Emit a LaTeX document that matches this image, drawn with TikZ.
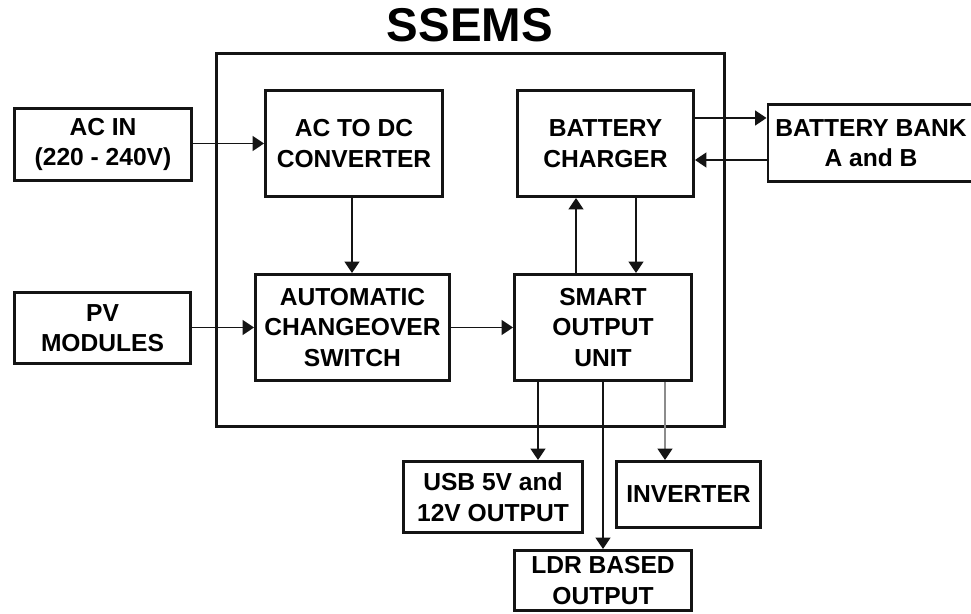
\documentclass[tikz,border=0pt]{standalone}
\usepackage{fontspec}
\setmainfont{Liberation Sans}
\usetikzlibrary{arrows.meta, calc}
\definecolor{cblack}{HTML}{141414}
\definecolor{cgrey}{HTML}{8C8C8C}
\tikzset{
  every picture/.style={line width=0.9pt},
  blockbox/.style 2 args={draw=cblack, line width=1.7pt, align=center, inner sep=1pt,
    font=\fontsize{14}{17.4}\selectfont\bfseries, minimum width=#1*0.02cm, minimum height=#2*0.02cm},
  framebox/.style={draw=cblack, line width=1.7pt, inner sep=0pt, minimum width=508*0.02cm, minimum height=373*0.02cm},
  titletext/.style={font=\fontsize{27}{31}\selectfont\bfseries, inner sep=0pt},
  arrow/.style={-{Triangle[length=6.5pt, width=8.5pt]}, draw=cblack, line width=0.9pt},
  greyarrow/.style={-{Triangle[length=6.5pt, width=8.5pt, color=cblack]}, draw=cgrey, line width=0.9pt},
}

\begin{document}
\begin{tikzpicture}[x=0.02cm, y=-0.02cm]
  \useasboundingbox (0,0) rectangle (971,614);
  % title and system frame
  \node[titletext, anchor=base] (title) at (470,42) {SSEMS};
  \node[framebox] (ssems) at (470.5,240) {};
  % blocks
  \node[blockbox={177}{72}] (acin) at (103,144.5) {AC IN\\(220 - 240V)};
  \node[blockbox={177}{106}] (acdc) at (354,143.5) {AC TO DC\\CONVERTER};
  \node[blockbox={176}{106}] (charger) at (605.5,143.5) {BATTERY\\CHARGER};
  \node[blockbox={206}{77}] (bank) at (871,143) {BATTERY BANK\\A and B};
  \node[blockbox={176}{71}] (pv) at (102.5,328) {PV\\MODULES};
  \node[blockbox={194}{106}] (acs) at (352.5,327.5) {AUTOMATIC\\CHANGEOVER\\SWITCH};
  \node[blockbox={177}{106}] (sou) at (603,327.5) {SMART\\OUTPUT\\UNIT};
  \node[blockbox={179}{71}] (usb) at (493,497) {USB 5V and\\12V OUTPUT};
  \node[blockbox={144}{66}] (inverter) at (688.5,494.5) {INVERTER};
  \node[blockbox={177}{60}] (ldr) at (603,580.5) {LDR BASED\\OUTPUT};
  % inputs
  \draw[arrow] (acin.east |- acdc.east) -- (acdc.east -| acdc.west);
  \draw[arrow] ($(acdc.south)+(-2,0)$) coordinate (c0) -- (c0 |- acs.north);
  \draw[arrow] (pv.east |- acs.west) -- (acs.west);
  \draw[arrow] (acs.east) -- (sou.west);
  % battery charger and bank
  \draw[arrow] ($(charger.east)+(0,-25.5)$) coordinate (c1) -- (c1 -| bank.west);
  \draw[arrow] ($(bank.west)+(0,17)$) coordinate (c2) -- (c2 -| charger.east);
  \draw[arrow] ($(sou.north)+(-27,0)$) coordinate (c3) -- (c3 |- charger.south);
  \draw[arrow] ($(charger.south)+(30.5,0)$) coordinate (c4) -- (c4 |- sou.north);
  % outputs
  \draw[arrow] ($(sou.south)+(-65,0)$) coordinate (c5) -- (c5 |- usb.north);
  \draw[arrow] (sou.south) -- (ldr.north);
  \draw[greyarrow] ($(sou.south)+(62,0)$) coordinate (c6) -- (c6 |- inverter.north);
\end{tikzpicture}
\end{document}
